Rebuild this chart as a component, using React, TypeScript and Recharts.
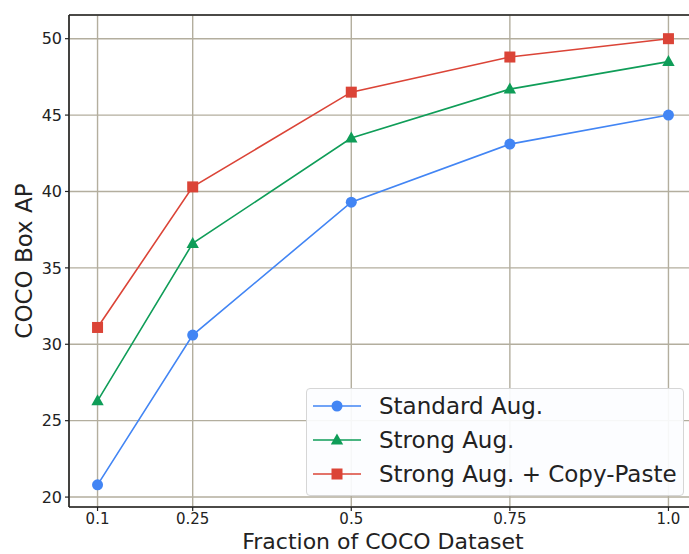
import React from "react";
import {
    LineChart,
    Line,
    XAxis,
    YAxis,
    CartesianGrid,
    Legend,
    ReferenceLine,
} from "recharts";

const fractions = [0.1, 0.25, 0.5, 0.75, 1.0];
const standardAug = [20.8, 30.6, 39.3, 43.1, 45.0];
const strongAug = [26.3, 36.6, 43.5, 46.7, 48.5];
const copyPaste = [31.1, 40.3, 46.5, 48.8, 50.0];
const xTicks = [0.1, 0.25, 0.5, 0.75, 1.0];
const xTickLabels = ["0.1", "0.25", "0.5", "0.75", "1.0"];
const yTicks = [20, 25, 30, 35, 40, 45, 50];

const BLUE = "#4285F4";
const GREEN = "#0F9D58";
const RED = "#DB4437";
const GRID = "#b3ae9e";
const INK = "#222";
const FONT = "'DejaVu Sans', sans-serif";

const data = fractions.map((x, i) => ({
    x,
    standard: standardAug[i],
    strong: strongAug[i],
    copyPaste: copyPaste[i],
}));

type Shape = "circle" | "triangle" | "square";

const Marker = ({ cx, cy, shape, color }: { cx: number; cy: number; shape: Shape; color: string }) => {
    if (shape === "circle") return <circle cx={cx} cy={cy} r={5.5} fill={color} />;
    if (shape === "square")
        return <rect x={cx - 5.5} y={cy - 5.5} width={11} height={11} fill={color} />;
    return (
        <polygon
            points={`${cx},${cy - 6.5} ${cx - 6.2},${cy + 4.5} ${cx + 6.2},${cy + 4.5}`}
            fill={color}
        />
    );
};

const makeDot = (shape: Shape, color: string) => (props: any) => {
    const { cx, cy, index } = props;
    if (cx == null || cy == null) return <g key={index} />;
    return (
        <g key={`${shape}-${index}`}>
            <Marker cx={cx} cy={cy} shape={shape} color={color} />
        </g>
    );
};

const legendItems: { label: string; color: string; shape: Shape }[] = [
    { label: "Standard Aug.", color: BLUE, shape: "circle" },
    { label: "Strong Aug.", color: GREEN, shape: "triangle" },
    { label: "Strong Aug. + Copy-Paste", color: RED, shape: "square" },
];

const LegendBox = () => (
    <div
        style={{
            width: 378,
            height: 108,
            boxSizing: "border-box",
            border: "1px solid #d6d6d6",
            borderRadius: 4,
            background: "rgba(252,253,255,0.92)",
            paddingTop: 0,
        }}
    >
        {legendItems.map((it) => (
            <div key={it.label} style={{ display: "flex", alignItems: "center", height: 34 }}>
                <svg width={72} height={34} style={{ flex: "none" }}>
                    <line x1={6} x2={54} y1={17} y2={17} stroke={it.color} strokeWidth={1.6} />
                    <Marker cx={30} cy={17} shape={it.shape} color={it.color} />
                </svg>
                <span style={{ fontFamily: FONT, fontSize: 23, color: INK, whiteSpace: "nowrap" }}>
                    {it.label}
                </span>
            </div>
        ))}
    </div>
);

export default function App() {
    return (
        <div
            style={{
                position: "absolute",
                left: 0,
                top: 0,
                width: 689,
                height: 554,
                overflow: "hidden",
                background: "#fff",
            }}
        >
            <LineChart
                width={697}
                height={554}
                data={data}
                margin={{ top: 15, right: 0, left: 0, bottom: 0 }}
                style={{ fontFamily: FONT }}
            >
                <CartesianGrid stroke={GRID} strokeWidth={1.4} />
                <XAxis
                    dataKey="x"
                    type="number"
                    domain={[0.055, 1.045]}
                    ticks={xTicks}
                    tickFormatter={(v: number) => xTickLabels[xTicks.indexOf(v)] ?? String(v)}
                    allowDataOverflow
                    height={47}
                    tickSize={4}
                    tickMargin={2}
                    tick={{ fontSize: 15, fill: INK }}
                    stroke={INK}
                    axisLine={{ stroke: INK, strokeWidth: 1.6 }}
                    tickLine={{ stroke: INK, strokeWidth: 1.2 }}
                    label={{
                        content: (p: any) => {
                            const vb = p.viewBox || { x: 69, y: 507, width: 628 };
                            return (
                                <text
                                    x={vb.x + vb.width / 2}
                                    y={vb.y + 41.5}
                                    textAnchor="middle"
                                    fontSize={22}
                                    fill={INK}
                                    fontFamily={FONT}
                                >
                                    Fraction of COCO Dataset
                                </text>
                            );
                        },
                    }}
                />
                <YAxis
                    type="number"
                    domain={[19.35, 51.55]}
                    ticks={yTicks}
                    allowDataOverflow
                    width={69}
                    tickSize={4}
                    tickMargin={3}
                    tick={{ fontSize: 16, fill: INK }}
                    axisLine={{ stroke: INK, strokeWidth: 1.6 }}
                    tickLine={{ stroke: INK, strokeWidth: 1.2 }}
                    label={{
                        content: (p: any) => {
                            const vb = p.viewBox || { x: 0, y: 15, height: 492 };
                            const cx = 24;
                            const cy = vb.y + vb.height / 2;
                            return (
                                <text
                                    x={cx}
                                    y={cy}
                                    transform={`rotate(-90 ${cx} ${cy})`}
                                    textAnchor="middle"
                                    dominantBaseline="central"
                                    fontSize={23}
                                    fill={INK}
                                    fontFamily={FONT}
                                >
                                    COCO Box AP
                                </text>
                            );
                        },
                    }}
                />
                <ReferenceLine y={51.55} stroke={INK} strokeWidth={1.6} />
                <Line
                    dataKey="standard"
                    name="Standard Aug."
                    stroke={BLUE}
                    strokeWidth={1.6}
                    dot={makeDot("circle", BLUE)}
                    activeDot={false}
                    isAnimationActive={false}
                />
                <Line
                    dataKey="strong"
                    name="Strong Aug."
                    stroke={GREEN}
                    strokeWidth={1.6}
                    dot={makeDot("triangle", GREEN)}
                    activeDot={false}
                    isAnimationActive={false}
                />
                <Line
                    dataKey="copyPaste"
                    name="Strong Aug. + Copy-Paste"
                    stroke={RED}
                    strokeWidth={1.6}
                    dot={makeDot("square", RED)}
                    activeDot={false}
                    isAnimationActive={false}
                />
                <Legend
                    layout="vertical"
                    align="center"
                    verticalAlign="middle"
                    content={() => <LegendBox />}
                    wrapperStyle={{ left: 306, top: 388, width: 378, height: 108, right: "auto", bottom: "auto" }}
                />
            </LineChart>
        </div>
    );
}
